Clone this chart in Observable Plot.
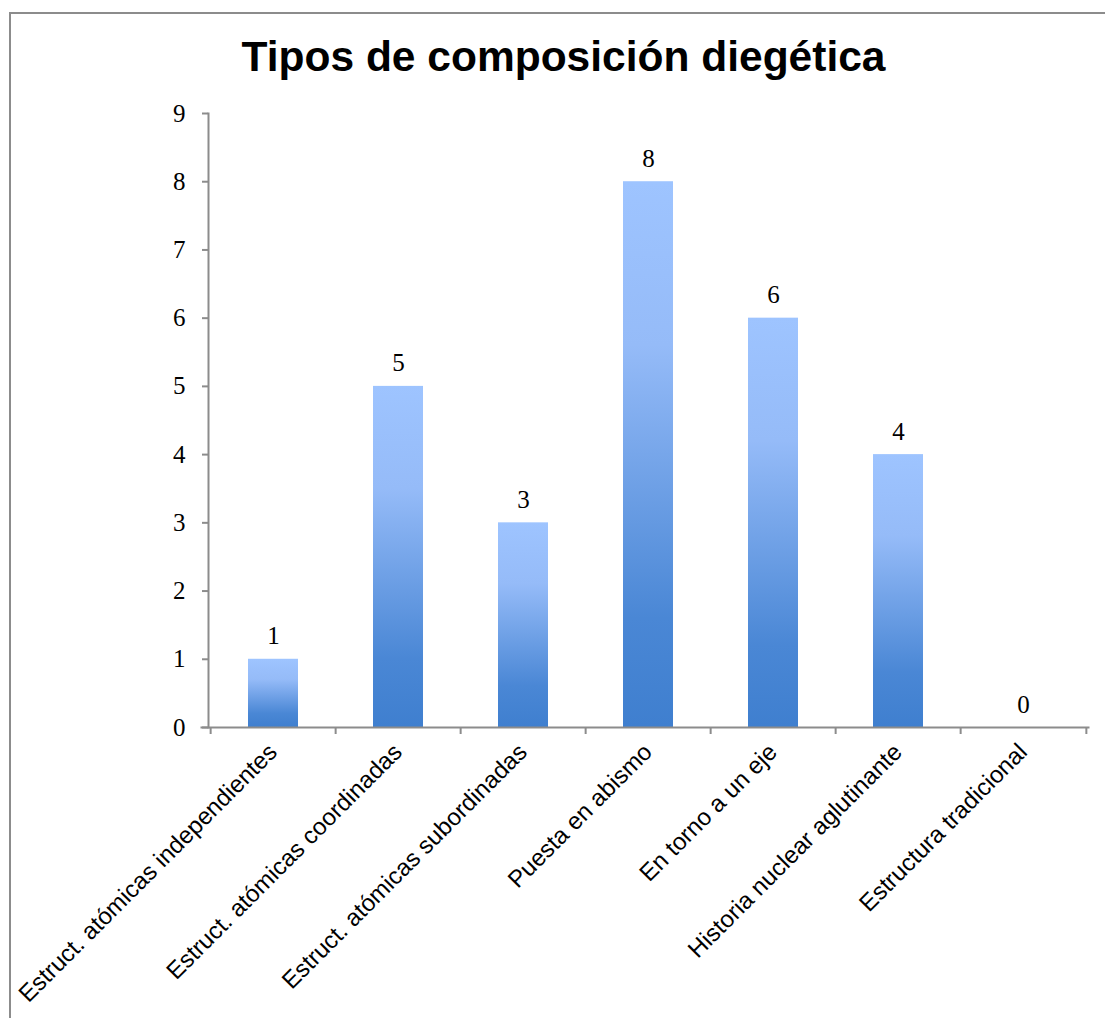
<!DOCTYPE html>
<html><head><meta charset="utf-8">
<script src="https://cdn.jsdelivr.net/npm/d3@7"></script>
<script src="https://cdn.jsdelivr.net/npm/@observablehq/plot@0.6"></script>
<style>
body{margin:0;background:#fff}
#wrap{position:relative;width:1105px;height:1018px;overflow:hidden;background:#fff}
#frame{position:absolute;left:9px;top:12px;width:1120px;height:1030px;border:2px solid #8c8c8c;box-sizing:border-box}
#title{position:absolute;left:0;width:1127px;top:36px;text-align:center;font:bold 42.5px/42px "Liberation Sans",Arial,sans-serif;color:#000;white-space:nowrap}
#chart{position:absolute;left:0;top:90px}
</style></head>
<body>
<div id="wrap"><div id="frame"></div><div id="title">Tipos de composición diegética</div><div id="chart"></div></div>
<script>
const categories = ["Estruct. atómicas independientes","Estruct. atómicas coordinadas","Estruct. atómicas subordinadas","Puesta en abismo","En torno a un eje","Historia nuclear aglutinante","Estructura tradicional"];
const values = [1,5,3,8,6,4,0];
const yTicks = [0,1,2,3,4,5,6,7,8,9];

const data = categories.map((c,i)=>({cat:c, value:values[i]}));
const W = 1105, H = 920, ML = 208, MR = 17, MT = 23, MB = 283;
const step = (W - ML - MR) / categories.length;
const axisGray = "#8c8c8c";

const plot = Plot.plot({
  width: W, height: H,
  marginLeft: ML, marginRight: MR, marginTop: MT, marginBottom: MB,
  style: {background: "transparent", overflow: "visible"},
  x: {domain: categories, paddingInner: 0.6, paddingOuter: 0.3, axis: null},
  y: {domain: [0, 9], axis: null},
  marks: [
    Plot.barY(data, {x: "cat", y: "value", fill: "url(#barGrad)"}),
    Plot.frame({anchor: "left", stroke: axisGray, strokeWidth: 2}),
    Plot.frame({anchor: "bottom", stroke: axisGray, strokeWidth: 2, insetLeft: -7}),
    Plot.axisY({ticks: yTicks, tickSize: 6, tickPadding: 17, stroke: axisGray, strokeWidth: 2, fill: "#000", fontSize: 25, fontFamily: "Liberation Serif", label: null}),
    Plot.axisX({ticks: categories, tickSize: 7, tickFormat: () => "", dx: -step/2, stroke: axisGray, strokeWidth: 2, label: null}),
    Plot.axisX({ticks: [categories[categories.length-1]], tickSize: 7, tickFormat: () => "", dx: step/2, stroke: axisGray, strokeWidth: 2, label: null}),
    Plot.text(categories, {x: d => d, frameAnchor: "bottom", rotate: -45, textAnchor: "end", dx: 5, dy: 26, fontSize: 24, fontFamily: "Liberation Sans", fill: "#000"}),
    Plot.text(data, {x: "cat", y: "value", text: d => String(d.value), dy: -23, fontSize: 25, fontFamily: "Liberation Serif", fill: "#000"})
  ]
});
plot.insertAdjacentHTML("afterbegin", `<defs><linearGradient id="barGrad" x1="0" y1="0" x2="0" y2="1">
<stop offset="0" stop-color="#9ec4ff"/><stop offset="0.3" stop-color="#95bbf8"/><stop offset="0.8" stop-color="#4a87d5"/><stop offset="1" stop-color="#3f7fcf"/></linearGradient></defs>`);
document.getElementById("chart").appendChild(plot);
</script>
</body></html>
